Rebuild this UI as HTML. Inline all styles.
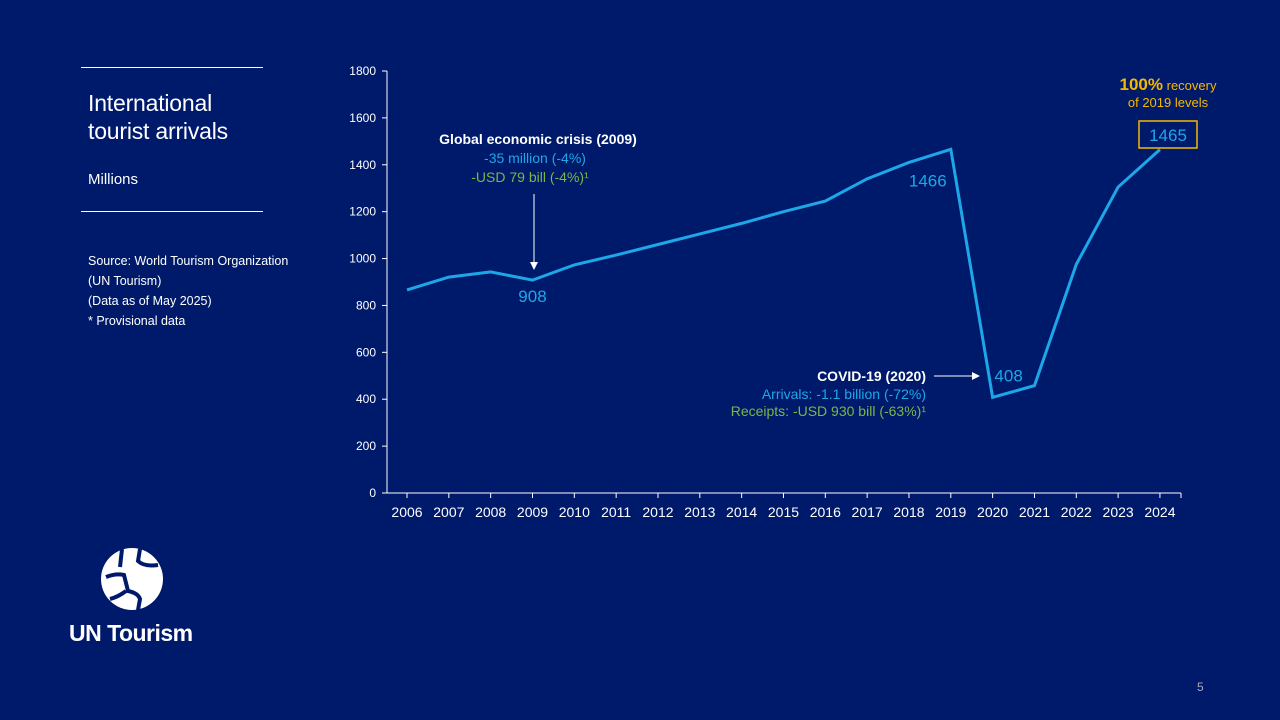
<!DOCTYPE html>
<html><head><meta charset="utf-8"><style>
body{margin:0;width:1280px;height:720px;background:#001a6b;font-family:"Liberation Sans",Arial,sans-serif;overflow:hidden;position:relative;color:#fff}
.abs{position:absolute}
</style></head><body>
<div class="abs" style="left:81px;top:67px;width:182px;height:1px;background:#fff"></div>
<div class="abs" style="left:88px;top:89px;font-size:23px;line-height:28px;letter-spacing:-0.2px">International<br>tourist arrivals</div>
<div class="abs" style="left:88px;top:171px;font-size:15px">Millions</div>
<div class="abs" style="left:81px;top:211px;width:182px;height:1px;background:#fff"></div>
<div class="abs" style="left:88px;top:251px;font-size:12.5px;line-height:20px">Source: World Tourism Organization<br>(UN Tourism)<br>(Data as of May 2025)<br>* Provisional data</div>
<svg class="abs" style="left:100px;top:547px" width="64" height="64" viewBox="0 0 64 64">
<circle cx="32" cy="32" r="31" fill="#fff"/>
<path d="M22 2 L20 20 M40 2 L38 14 Q44 20 58 18 M6 30 Q16 26 24 28 L28 44 Q38 46 40 52 L38 63 M26 44 Q18 50 10 52" stroke="#001a6b" stroke-width="4" fill="none"/>
</svg>
<div class="abs" style="left:69px;top:620px;font-size:23px;font-weight:bold;letter-spacing:-0.5px">UN Tourism</div>
<div class="abs" style="left:1197px;top:680px;font-size:12px;color:#aab">5</div>
<svg class="abs" style="left:0;top:0" width="1280" height="720" id="chart"></svg>
<script>
const years=["2006","2007","2008","2009","2010","2011","2012","2013","2014","2015","2016","2017","2018","2019","2020","2021","2022","2023","2024"];
const arrivals=[866,921,943,908,973,1015,1060,1105,1150,1200,1245,1340,1410,1466,408,458,975,1305,1465];
const yTicks=[0,200,400,600,800,1000,1200,1400,1600,1800];
const NS="http://www.w3.org/2000/svg",svg=document.getElementById('chart');
const x=i=>407+i*41.83, y=v=>493-v*422/1800;
function el(t,a,p){const e=document.createElementNS(NS,t);for(const k in a)e.setAttribute(k,a[k]);(p||svg).appendChild(e);return e;}
const ya=el('line',{x1:387,x2:387,y1:71,y2:493,stroke:'#fff','stroke-width':1});


const xa=el('line',{x1:387,x2:1181,y1:493,y2:493,stroke:'#fff','stroke-width':1});


yTicks.forEach(v=>{el('line',{x1:382,x2:387,y1:y(v),y2:y(v),stroke:'#fff'});
const t=el('text',{x:376,y:y(v)+4,'text-anchor':'end','font-size':12,fill:'#fff'});t.textContent=v;

});
years.forEach((yr,i)=>{el('line',{x1:x(i),x2:x(i),y1:493,y2:498,stroke:'#fff'});
const t=el('text',{x:x(i),y:517,'text-anchor':'middle','font-size':14,fill:'#fff'});t.textContent=yr;

});
el('line',{x1:1181,x2:1181,y1:493,y2:498,stroke:'#fff'});
const ln=el('polyline',{points:arrivals.map((v,i)=>x(i)+','+y(v)).join(' '),fill:'none',stroke:'#1ea7e8','stroke-width':3,'stroke-linejoin':'miter'});


function txt(s,a,n){const t=el('text',a);t.textContent=s;return t;}
txt(arrivals[3],{x:x(3),y:y(arrivals[3])+22,'text-anchor':'middle','font-size':17,fill:'#1ea7e8'},'label-2009');
txt(arrivals[13],{x:x(13)-23,y:y(arrivals[13])+37,'text-anchor':'middle','font-size':17,fill:'#1ea7e8'},'label-2019');
txt(arrivals[14],{x:x(14)+16,y:y(arrivals[14])-16,'text-anchor':'middle','font-size':17,fill:'#1ea7e8'},'label-2020');
el('rect',{x:1139,y:121,width:58,height:27,fill:'none',stroke:'#f5b800','stroke-width':1.5});
txt(arrivals[18],{x:1168,y:141,'text-anchor':'middle','font-size':17,fill:'#1ea7e8'},'label-2024');
txt('Global economic crisis (2009)',{x:538,y:144,'text-anchor':'middle','font-size':14,'font-weight':'bold',fill:'#fff'},'crisis-title');
txt('-35 million (-4%)',{x:535,y:163,'text-anchor':'middle','font-size':14,fill:'#1ea7e8'},'crisis-arrivals');
txt('-USD 79 bill (-4%)¹',{x:530,y:182,'text-anchor':'middle','font-size':14,fill:'#7ab648'},'crisis-receipts');
el('line',{x1:534,x2:534,y1:194,y2:262,stroke:'#fff'});
el('path',{d:'M530 262 L538 262 L534 270 Z',fill:'#fff'});
txt('COVID-19 (2020)',{x:926,y:381,'text-anchor':'end','font-size':14,'font-weight':'bold',fill:'#fff'},'covid-title');
txt('Arrivals: -1.1 billion (-72%)',{x:926,y:399,'text-anchor':'end','font-size':14,fill:'#1ea7e8'},'covid-arrivals');
txt('Receipts: -USD 930 bill (-63%)¹',{x:926,y:416,'text-anchor':'end','font-size':14,fill:'#7ab648'},'covid-receipts');
el('line',{x1:934,x2:972,y1:376,y2:376,stroke:'#fff'});
el('path',{d:'M972 372 L980 376 L972 380 Z',fill:'#fff'});
const r=txt('',{x:1168,y:90,'text-anchor':'middle','font-size':13,fill:'#f5b800'},'recovery-note');
const s1=el('tspan',{'font-size':17,'font-weight':'bold'},r);s1.textContent='100%';
const s2=el('tspan',{},r);s2.textContent=' recovery';
txt('of 2019 levels',{x:1168,y:107,'text-anchor':'middle','font-size':13,fill:'#f5b800'},'recovery-note-2');
</script>
</body></html>
